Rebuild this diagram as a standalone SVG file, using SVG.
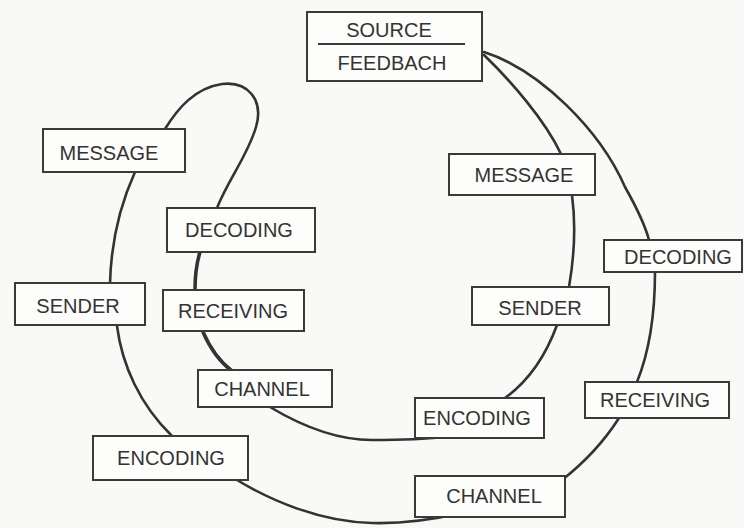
<svg xmlns="http://www.w3.org/2000/svg" width="744" height="528" viewBox="0 0 744 528">
<style>
.box rect{fill:#fdfdfb;stroke:#3a3a3a;stroke-width:2}
.box text{font-family:"Liberation Sans",Arial,sans-serif;font-size:20px;fill:#333;text-anchor:middle}
#connectors path{fill:none;stroke:#333;stroke-width:2.6;stroke-linecap:round}
#connectors path.thick{stroke-width:3.6}
</style>
<rect width="744" height="528" fill="#f9f9f7"/>
<g id="connectors">
<path d="M165,129 C178,108 195,88 222,84 C248,81 264,100 256,127 C248,155 228,180 217,208"/>
<path d="M135,172 C120,205 111,240 110,284"/>
<path class="thick" d="M200,252 C196,265 195,278 195,290"/>
<path d="M117,326 C122,365 140,405 172,436"/>
<path class="thick" d="M203,332 C210,348 220,362 232,371"/>
<path d="M270,407 C300,425 335,440 372,440 C400,440 420,440 442,437"/>
<path d="M237,480 C270,500 320,522 372,523 C410,524 440,518 462,513"/>
<path d="M484,55 C510,80 545,120 561,154"/>
<path d="M484,52 C540,70 600,130 625,187 C638,210 645,225 649,240"/>
<path d="M572,195 C576,225 574,258 569,287"/>
<path d="M655,272 C655,310 650,350 637,382"/>
<path d="M557,325 C546,355 530,380 505,398"/>
<path d="M619,418 C605,440 585,462 562,480"/>
</g>
<g id="source" class="box"><rect x="307" y="12" width="175" height="69"/><line x1="318" y1="44" x2="465" y2="44" stroke="#3a3a3a" stroke-width="2"/><text x="389" y="37">SOURCE</text><text x="392" y="70">FEEDBACH</text></g>
<g id="message-left" class="box"><rect x="43" y="129" width="142" height="43"/><text x="109" y="160">MESSAGE</text></g>
<g id="decoding-left" class="box"><rect x="167" y="208" width="148" height="44"/><text x="239" y="237">DECODING</text></g>
<g id="sender-left" class="box"><rect x="15" y="283" width="130" height="42"/><text x="78" y="313">SENDER</text></g>
<g id="receiving-left" class="box"><rect x="163" y="290" width="141" height="41"/><text x="233" y="318">RECEIVING</text></g>
<g id="channel-left" class="box"><rect x="198" y="370" width="134" height="37"/><text x="262" y="396">CHANNEL</text></g>
<g id="encoding-left" class="box"><rect x="93" y="436" width="155" height="44"/><text x="171" y="465">ENCODING</text></g>
<g id="message-right" class="box"><rect x="449" y="154" width="146" height="41"/><text x="524" y="182">MESSAGE</text></g>
<g id="decoding-right" class="box"><rect x="604" y="240" width="138" height="32"/><text x="678" y="264">DECODING</text></g>
<g id="sender-right" class="box"><rect x="472" y="287" width="137" height="38"/><text x="540" y="315">SENDER</text></g>
<g id="receiving-right" class="box"><rect x="585" y="382" width="144" height="36"/><text x="655" y="407">RECEIVING</text></g>
<g id="encoding-right" class="box"><rect x="415" y="398" width="129" height="40"/><text x="477" y="425">ENCODING</text></g>
<g id="channel-right" class="box"><rect x="415" y="476" width="150" height="41"/><text x="494" y="503">CHANNEL</text></g>
</svg>
